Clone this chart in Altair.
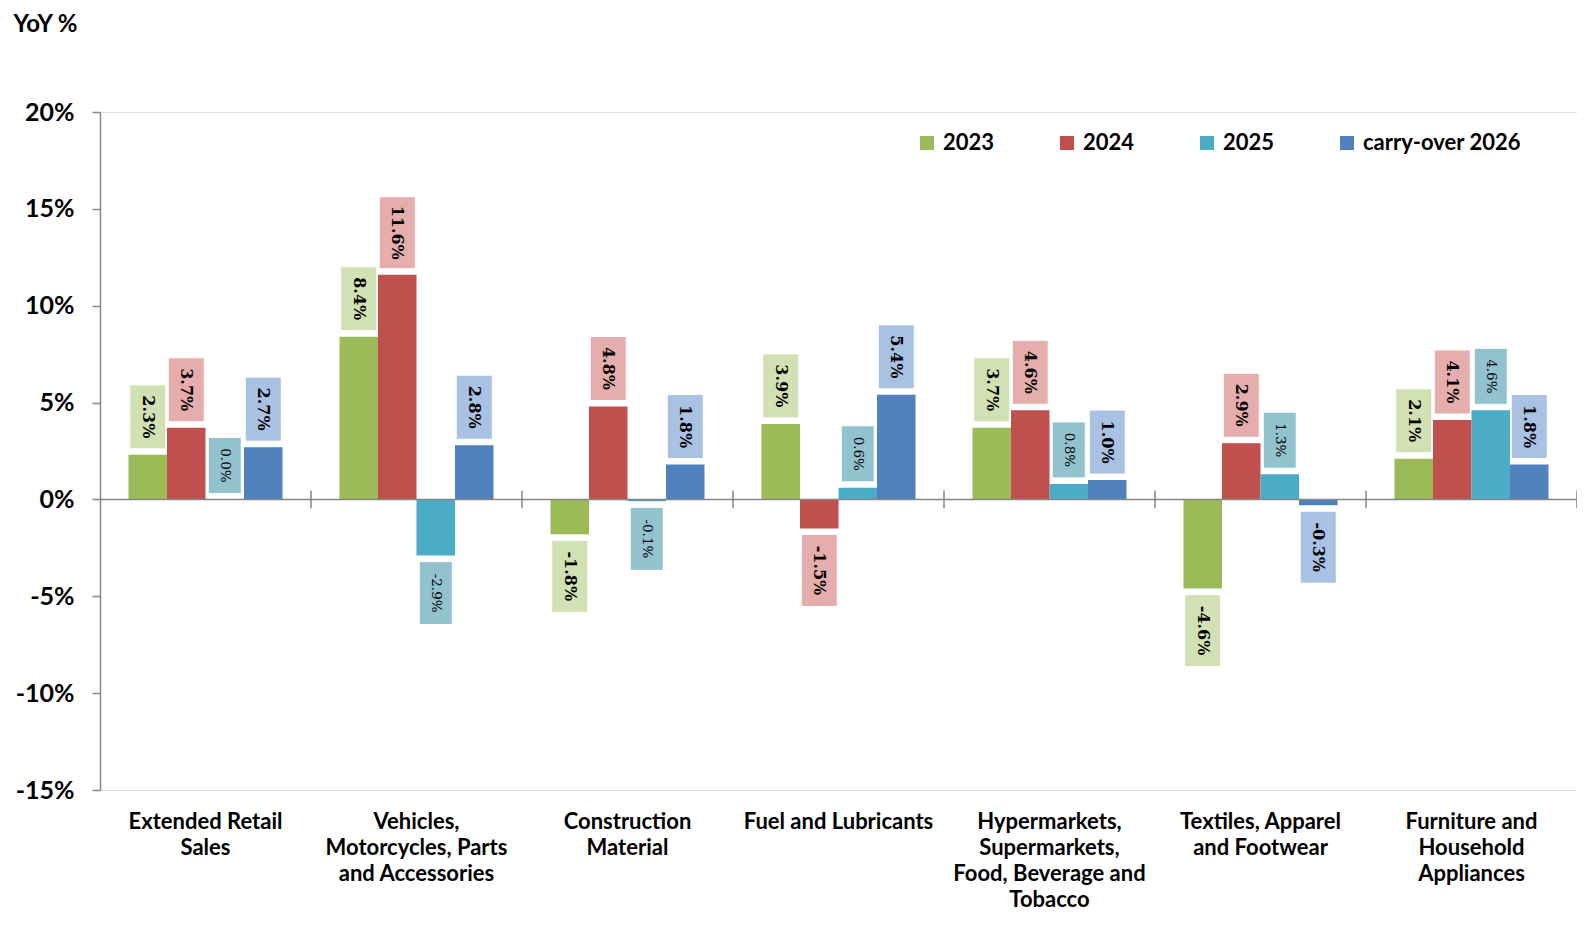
import json
import pandas as pd
import altair as alt

categories = [
    "Extended Retail Sales",
    "Vehicles, Motorcycles, Parts and Accessories",
    "Construction Material",
    "Fuel and Lubricants",
    "Hypermarkets, Supermarkets, Food, Beverage and Tobacco",
    "Textiles, Apparel and Footwear",
    "Furniture and Household Appliances",
]
label_lines = [
    ["Extended Retail", "Sales"],
    ["Vehicles,", "Motorcycles, Parts", "and Accessories"],
    ["Construction", "Material"],
    ["Fuel and Lubricants"],
    ["Hypermarkets,", "Supermarkets,", "Food, Beverage and", "Tobacco"],
    ["Textiles, Apparel", "and Footwear"],
    ["Furniture and", "Household", "Appliances"],
]
series = ["2023", "2024", "2025", "carry-over 2026"]
v2023 = [2.3, 8.4, -1.8, 3.9, 3.7, -4.6, 2.1]
v2024 = [3.7, 11.6, 4.8, -1.5, 4.6, 2.9, 4.1]
v2025 = [0.0, -2.9, -0.1, 0.6, 0.8, 1.3, 4.6]
v2026 = [2.7, 2.8, 1.8, 5.4, 1.0, -0.3, 1.8]
y_ticks = [-15, -10, -5, 0, 5, 10, 15, 20]

bar_colors = ["#9BBB59", "#C0504D", "#4BACC6", "#4F81BD"]
box_colors = ["#D2E1B3", "#E5ADAC", "#92C2CE", "#A9C1E2"]

W, H = 1477, 678
YMIN, YMAX = -15, 20
K = H / (YMAX - YMIN)  # px per percentage point
STEP = W / len(categories)
PAD_INNER = 0.27

rows = []
for ci, cat in enumerate(categories):
    for si, (s, vals) in enumerate(zip(series, [v2023, v2024, v2025, v2026])):
        v = vals[ci]
        lab = f"{v:.1f}%"
        small = s == "2025"
        n = len(lab)
        hpx = (7 * n + 28) if small else (8 * n + 32)
        gap = 6
        sign = 1 if v >= 0 else -1
        lo = v + sign * gap / K
        hi = v + sign * (gap + hpx) / K
        rows.append(dict(cat=cat, series=s, value=v, label=lab, small=small,
                         box_lo=lo, box_hi=hi, text_y=(lo + hi) / 2,
                         box_color=box_colors[si], bw=33 if small else 36))
df = pd.DataFrame(rows)

FONT = "Lato"
GRAY = "#868686"
x_enc = alt.X("cat:N", sort=categories,
              scale=alt.Scale(paddingInner=PAD_INNER, paddingOuter=PAD_INNER / 2),
              axis=alt.Axis(title=None, labelAngle=0, ticks=False, domain=False,
                            labelExpr=f"{json.dumps(label_lines)}[indexof({json.dumps(categories)}, datum.value)]",
                            labelFont=FONT, labelFontWeight="bold", labelFontSize=22,
                            labelColor="#000000", labelLineHeight=26, labelPadding=21,
                            labelLimit=400))
xo_enc = alt.XOffset("series:N", sort=series, scale=alt.Scale(paddingInner=0, paddingOuter=0))
y_scale = alt.Scale(domain=[YMIN, YMAX], nice=False, zero=False)

base = alt.Chart(df)

bars = base.mark_bar().encode(
    x=x_enc,
    xOffset=xo_enc,
    y=alt.Y("value:Q", scale=y_scale,
            axis=alt.Axis(values=y_ticks, labelExpr="datum.value + '%'", grid=False,
                          tickSize=8, tickColor=GRAY, domainColor=GRAY,
                          domainWidth=1.5, tickWidth=1.5,
                          labelFont=FONT, labelFontWeight="bold", labelFontSize=25,
                          labelColor="#000000", labelPadding=18,
                          title="YoY %", titleAngle=0, titleAlign="left",
                          titleBaseline="top", titleX=-87, titleY=-100,
                          titleFont=FONT, titleFontWeight="bold", titleFontSize=24,
                          titleColor="#000000")),
    y2=alt.datum(0),
    color=alt.Color("series:N", scale=alt.Scale(domain=series, range=bar_colors),
                    legend=alt.Legend(title=None, orient="none", legendX=816, legendY=20,
                                      direction="horizontal", columns=4, columnPadding=61,
                                      symbolType="square", symbolSize=196,
                                      symbolStrokeWidth=0, labelOffset=5,
                                      labelFont=FONT, labelFontWeight="bold",
                                      labelFontSize=22, labelColor="#000000")),
)

zero_line = alt.Chart(pd.DataFrame({"z": [0]})).mark_rule(color=GRAY, strokeWidth=1.5).encode(
    y=alt.Y("z:Q", scale=y_scale)
)

bounds = pd.DataFrame({"cat": categories[1:], "lo": [-0.45] * 6, "hi": [0.45] * 6})
ticks = alt.Chart(bounds).mark_rule(color=GRAY, strokeWidth=1.5,
                                    xOffset=-STEP * PAD_INNER / 2).encode(
    x=alt.X("cat:N", sort=categories, bandPosition=0),
    y=alt.Y("lo:Q", scale=y_scale),
    y2="hi:Q",
)
end_bound = pd.DataFrame({"cat": categories[-1:], "lo": [-0.45], "hi": [0.45]})
end_tick = alt.Chart(end_bound).mark_rule(color=GRAY, strokeWidth=1.5,
                                          xOffset=STEP * PAD_INNER / 2).encode(
    x=alt.X("cat:N", sort=categories, bandPosition=1),
    y=alt.Y("lo:Q", scale=y_scale),
    y2="hi:Q",
)

boxes = base.mark_bar(stroke="white", strokeWidth=1).encode(
    x=alt.X("cat:N", sort=categories),
    xOffset=xo_enc,
    y=alt.Y("box_lo:Q", scale=y_scale),
    y2="box_hi:Q",
    fill=alt.Fill("box_color:N", scale=None),
    size=alt.Size("bw:Q", scale=None),
)

text_main = base.transform_filter("!datum.small").mark_text(
    angle=90, align="center", baseline="middle", font="DejaVu Serif",
    fontWeight="bold", fontSize=16, color="#000000").encode(
    x=alt.X("cat:N", sort=categories),
    xOffset=xo_enc,
    y=alt.Y("text_y:Q", scale=y_scale),
    text="label:N",
)
text_small = base.transform_filter("datum.small").mark_text(
    angle=90, align="center", baseline="middle", font="DejaVu Serif",
    fontSize=13.5, color="#000000").encode(
    x=alt.X("cat:N", sort=categories),
    xOffset=xo_enc,
    y=alt.Y("text_y:Q", scale=y_scale),
    text="label:N",
)

chart = alt.layer(bars, zero_line, ticks, end_tick, boxes, text_main, text_small).properties(
    width=W, height=H,
    autosize=alt.AutoSizeParams(type="none"),
    padding={"left": 92, "top": 104, "right": 0, "bottom": 122},
).configure_view(stroke=None).configure(background="white")

chart.save("out.html", embed_options={"renderer": "svg", "actions": False})
